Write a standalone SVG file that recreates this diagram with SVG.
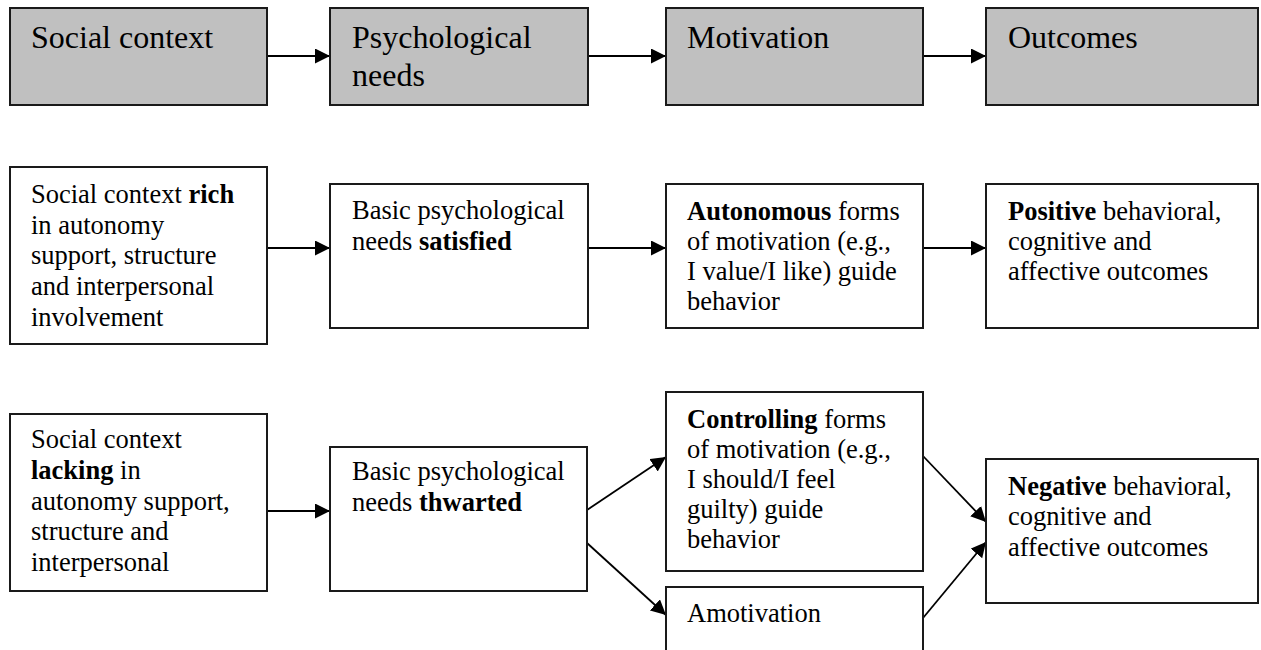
<svg xmlns="http://www.w3.org/2000/svg" width="1261" height="650" viewBox="0 0 1261 650">
<style>
.box{fill:#ffffff;stroke:#1a1a1a;stroke-width:2}
.hdr{fill:#c0c0c0;stroke:#1a1a1a;stroke-width:2}
.t{font-family:"Liberation Serif","Times New Roman",serif;font-size:26.5px;fill:#000}
.th{font-family:"Liberation Serif","Times New Roman",serif;font-size:32px;fill:#000}
.b{font-weight:bold}
.c{stroke:#000;stroke-width:1.8;fill:none;marker-end:url(#ah)}
</style>
<defs>
<marker id="ah" markerUnits="userSpaceOnUse" markerWidth="16" markerHeight="16" refX="15" refY="7.5" orient="auto">
<path d="M0,0 L15,7.5 L0,15 z" fill="#000"/>
</marker>
</defs>
<rect width="1261" height="650" fill="#fff"/>

<g id="connectors">
<line class="c" x1="267" y1="56" x2="330" y2="56"/>
<line class="c" x1="588" y1="56" x2="666" y2="56"/>
<line class="c" x1="923" y1="56" x2="986" y2="56"/>
<line class="c" x1="267" y1="248" x2="330" y2="248"/>
<line class="c" x1="588" y1="248" x2="666" y2="248"/>
<line class="c" x1="923" y1="248" x2="986" y2="248"/>
<line class="c" x1="267" y1="511" x2="330" y2="511"/>
<line class="c" x1="587" y1="510" x2="666" y2="457"/>
<line class="c" x1="587" y1="543" x2="666" y2="615"/>
<line class="c" x1="923" y1="456" x2="986" y2="522"/>
<line class="c" x1="923" y1="618" x2="986" y2="542"/>
</g>

<g id="h-social">
<rect class="hdr" x="10" y="8" width="257" height="97"/>
<text class="th" x="31" y="48">Social context</text>
</g>
<g id="h-needs">
<rect class="hdr" x="330" y="8" width="258" height="97"/>
<text class="th" x="352" y="48">Psychological</text>
<text class="th" x="352" y="86">needs</text>
</g>
<g id="h-motivation">
<rect class="hdr" x="666" y="8" width="257" height="97"/>
<text class="th" x="687" y="48">Motivation</text>
</g>
<g id="h-outcomes">
<rect class="hdr" x="986" y="8" width="272" height="97"/>
<text class="th" x="1008" y="48">Outcomes</text>
</g>

<g id="rich">
<rect class="box" x="10" y="167" width="257" height="177"/>
<text class="t" x="31" y="203">Social context <tspan class="b">rich</tspan></text>
<text class="t" x="31" y="234">in autonomy</text>
<text class="t" x="31" y="264">support, structure</text>
<text class="t" x="31" y="295">and interpersonal</text>
<text class="t" x="31" y="326">involvement</text>
</g>
<g id="satisfied">
<rect class="box" x="330" y="184" width="258" height="144"/>
<text class="t" x="352" y="219">Basic psychological</text>
<text class="t" x="352" y="250">needs <tspan class="b">satisfied</tspan></text>
</g>
<g id="autonomous">
<rect class="box" x="666" y="184" width="257" height="144"/>
<text class="t" x="687" y="220"><tspan class="b">Autonomous</tspan> forms</text>
<text class="t" x="687" y="250">of motivation (e.g.,</text>
<text class="t" x="687" y="280">I value/I like) guide</text>
<text class="t" x="687" y="310">behavior</text>
</g>
<g id="positive">
<rect class="box" x="986" y="184" width="272" height="144"/>
<text class="t" x="1008" y="220"><tspan class="b">Positive</tspan> behavioral,</text>
<text class="t" x="1008" y="250">cognitive and</text>
<text class="t" x="1008" y="280">affective outcomes</text>
</g>

<g id="lacking">
<rect class="box" x="10" y="414" width="257" height="177"/>
<text class="t" x="31" y="448">Social context</text>
<text class="t" x="31" y="479"><tspan class="b">lacking</tspan> in</text>
<text class="t" x="31" y="510">autonomy support,</text>
<text class="t" x="31" y="540">structure and</text>
<text class="t" x="31" y="571">interpersonal</text>
</g>
<g id="thwarted">
<rect class="box" x="330" y="447" width="257" height="144"/>
<text class="t" x="352" y="480">Basic psychological</text>
<text class="t" x="352" y="511">needs <tspan class="b">thwarted</tspan></text>
</g>
<g id="controlling">
<rect class="box" x="666" y="392" width="257" height="179"/>
<text class="t" x="687" y="428"><tspan class="b">Controlling</tspan> forms</text>
<text class="t" x="687" y="458">of motivation (e.g.,</text>
<text class="t" x="687" y="488">I should/I feel</text>
<text class="t" x="687" y="518">guilty) guide</text>
<text class="t" x="687" y="548">behavior</text>
</g>
<g id="amotivation">
<rect class="box" x="666" y="587" width="257" height="80"/>
<text class="t" x="687" y="622">Amotivation</text>
</g>
<g id="negative">
<rect class="box" x="986" y="459" width="272" height="144"/>
<text class="t" x="1008" y="495"><tspan class="b">Negative</tspan> behavioral,</text>
<text class="t" x="1008" y="525">cognitive and</text>
<text class="t" x="1008" y="556">affective outcomes</text>
</g>
</svg>
